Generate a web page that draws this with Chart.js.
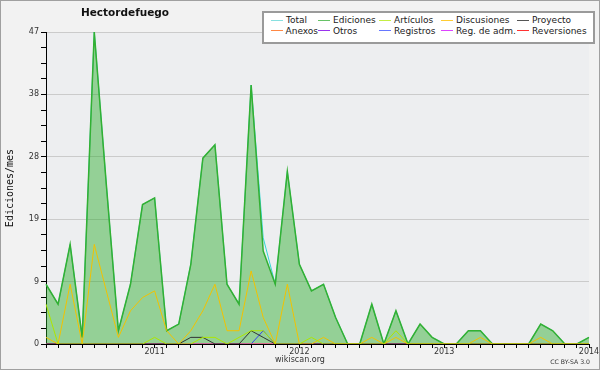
<!DOCTYPE html>
<html>
<head>
<meta charset="utf-8">
<script src="https://cdn.jsdelivr.net/npm/chart.js@4.4.1/dist/chart.umd.min.js"></script>
<style>
    html, body { margin: 0; padding: 0; background: #f2f2f2; }
    #wrap { position: relative; width: 600px; height: 370px; overflow: hidden; font-family: 'DejaVu Sans', sans-serif; }
    #frame { position: absolute; left: 0; top: 0; width: 598px; height: 368px; border: 1px solid #a0a0a0; pointer-events: none; }
    #title { position: absolute; left: 45px; top: 5px; width: 160px; text-align: center; font-weight: bold; font-size: 10.5px; line-height: 14px; color: #111; }
    #legend { position: absolute; left: 262px; top: 11px; width: 322px; height: 27px; padding: 2px 0 0 7px; background: #fff; border: 2px solid #9a9a9a;
              display: grid; grid-template-columns: 47px 61px 62px 76px auto; grid-auto-rows: 10.5px; align-content: start;
              font-size: 9px; line-height: 10.5px; color: #222; }
    .item { display: flex; align-items: center; white-space: nowrap; }
    .swatch { display: inline-block; width: 12px; height: 1px; margin-right: 3px; }
    #site { position: absolute; left: 0; top: 355px; width: 600px; text-align: center; font-size: 8px; color: #333; }
    #cc { position: absolute; right: 10px; top: 358px; font-size: 6.2px; color: #333; }
</style>
</head>
<body>
<div id="wrap">
    <canvas id="chart" width="600" height="370"></canvas>
    <div id="title">Hectordefuego</div>
    <div id="legend"></div>
    <div id="site">wikiscan.org</div>
    <div id="cc">CC BY-SA 3.0</div>
    <div id="frame"></div>
</div>
<script>
const months = [
    '2010-04', '2010-05', '2010-06', '2010-07', '2010-08', '2010-09', '2010-10', '2010-11', '2010-12',
    '2011-01', '2011-02', '2011-03', '2011-04', '2011-05', '2011-06', '2011-07', '2011-08', '2011-09', '2011-10', '2011-11', '2011-12',
    '2012-01', '2012-02', '2012-03', '2012-04', '2012-05', '2012-06', '2012-07', '2012-08', '2012-09', '2012-10', '2012-11', '2012-12',
    '2013-01', '2013-02', '2013-03', '2013-04', '2013-05', '2013-06', '2013-07', '2013-08', '2013-09', '2013-10', '2013-11', '2013-12',
    '2014-01'
];

const total       = [9, 6, 15, 1, 47, 24, 2, 9, 21, 22, 2, 3, 12, 28, 30, 9, 6, 39, 16, 9, 26, 12, 8, 9, 4, 0, 0, 6, 0, 5, 0, 3, 1, 0, 0, 2, 2, 0, 0, 0, 0, 3, 2, 0, 0, 1];
const ediciones   = [9, 6, 15, 1, 47, 24, 2, 9, 21, 22, 2, 3, 12, 28, 30, 9, 6, 39, 14, 9, 26, 12, 8, 9, 4, 0, 0, 6, 0, 5, 0, 3, 1, 0, 0, 2, 2, 0, 0, 0, 0, 3, 2, 0, 0, 1];
const articulos   = [6, 0, 0, 0, 0, 0, 0, 0, 0, 1, 0, 0, 0, 1, 1, 0, 1, 2, 2, 0, 0, 0, 1, 0, 0, 0, 0, 0, 0, 2, 0, 0, 0, 0, 0, 0, 0, 0, 0, 0, 0, 0, 0, 0, 0, 0];
const discusiones = [1, 0, 9, 0, 15, 8, 1, 5, 7, 8, 2, 0, 2, 5, 9, 2, 2, 11, 4, 0, 9, 0, 0, 1, 0, 0, 0, 1, 0, 1, 0, 0, 0, 0, 0, 0, 1, 0, 0, 0, 0, 1, 0, 0, 0, 0];
const proyecto    = [0, 0, 0, 0, 0, 0, 0, 0, 0, 0, 0, 0, 1, 1, 0, 0, 0, 2, 1, 0, 0, 0, 0, 0, 0, 0, 0, 0, 0, 0, 0, 0, 0, 0, 0, 0, 0, 0, 0, 0, 0, 0, 0, 0, 0, 0];
const registros   = [0, 0, 0, 0, 0, 0, 0, 0, 0, 0, 0, 0, 0, 0, 0, 0, 0, 0, 2, 0, 0, 0, 0, 0, 0, 0, 0, 0, 0, 0, 0, 0, 0, 0, 0, 0, 0, 0, 0, 0, 0, 0, 0, 0, 0, 0];
const anexos      = [0, 0, 0, 0, 0, 0, 0, 0, 0, 0, 0, 0, 0, 0, 0, 0, 0, 0, 0, 0, 0, 0, 0, 0, 0, 0, 0, 0, 0, 0, 0, 0, 0, 0, 0, 0, 0, 0, 0, 0, 0, 0, 0, 0, 0, 0];
const otros       = [0, 0, 0, 0, 0, 0, 0, 0, 0, 0, 0, 0, 0, 0, 0, 0, 0, 0, 0, 0, 0, 0, 0, 0, 0, 0, 0, 0, 0, 0, 0, 0, 0, 0, 0, 0, 0, 0, 0, 0, 0, 0, 0, 0, 0, 0];
const regAdm      = [0, 0, 0, 0, 0, 0, 0, 0, 0, 0, 0, 0, 0, 0, 0, 0, 0, 0, 0, 0, 0, 0, 0, 0, 0, 0, 0, 0, 0, 0, 0, 0, 0, 0, 0, 0, 0, 0, 0, 0, 0, 0, 0, 0, 0, 0];
const reversiones = [0, 0, 0, 0, 0, 0, 0, 0, 0, 0, 0, 0, 0, 0, 0, 0, 0, 0, 0, 0, 0, 0, 0, 0, 0, 0, 0, 0, 0, 0, 0, 0, 0, 0, 0, 0, 0, 0, 0, 0, 0, 0, 0, 0, 0, 0];

const seriesNames  = ['Total', 'Ediciones', 'Artículos', 'Discusiones', 'Proyecto', 'Anexos', 'Otros', 'Registros', 'Reg. de adm.', 'Reversiones'];
const seriesValues = [total, ediciones, articulos, discusiones, proyecto, anexos, otros, registros, regAdm, reversiones];
const legendColors = ['#88e0e0', '#66c266', '#c4ee44', '#ffcc33', '#555555', '#ff8844', '#9933ee', '#6677ff', '#dd44ff', '#ff3333'];
const lineColors   = ['#33d6d6', '#33b033', '#aee600', '#f2c200', '#333333', '#ff8844', '#9933ee', '#3344ee', '#dd44ff', '#ff3333'];

// legend box (html, on top of the canvas)
const legendEl = document.getElementById('legend');
seriesNames.forEach((name, i) => {
    const item = document.createElement('div');
    item.className = 'item';
    const sw = document.createElement('span');
    sw.className = 'swatch';
    sw.style.background = legendColors[i];
    item.appendChild(sw);
    item.appendChild(document.createTextNode(name));
    legendEl.appendChild(item);
});

const background = {
    id: 'background',
    beforeDraw(chart) {
        const { ctx, chartArea: a } = chart;
        ctx.save();
        ctx.fillStyle = '#f2f2f2';
        ctx.fillRect(0, 0, chart.width, chart.height);
        ctx.fillStyle = '#edeef0';
        ctx.fillRect(a.left, a.top, a.right - a.left, a.bottom - a.top);
        ctx.restore();
    }
};

const datasets = seriesNames.map((name, i) => ({
    label: name,
    data: seriesValues[i],
    borderColor: lineColors[i],
    borderWidth: name === 'Ediciones' ? 1.5 : 1,
    fill: name === 'Ediciones' ? 'origin' : false,
    backgroundColor: name === 'Ediciones' ? 'rgba(40, 170, 40, 0.45)' : 'transparent',
    order: name === 'Total' ? 20 : (name === 'Ediciones' ? 19 : i)
}));

const tickFont = { family: "'DejaVu Sans', sans-serif", size: 8 };

new Chart(document.getElementById('chart').getContext('2d'), {
    type: 'line',
    data: { labels: months, datasets: datasets },
    options: {
        responsive: false,
        animation: false,
        layout: { padding: { top: 32, right: 11, bottom: 0, left: 0 } },
        elements: { point: { radius: 0 }, line: { tension: 0 } },
        plugins: { legend: { display: false }, tooltip: { enabled: false } },
        scales: {
            x: {
                z: 1,
                offset: false,
                border: { color: '#000', width: 1 },
                grid: { drawOnChartArea: false, offset: false, tickLength: 4, tickColor: '#000' },
                ticks: {
                    autoSkip: false,
                    maxRotation: 0,
                    padding: -1,
                    color: '#333',
                    font: tickFont,
                    callback: (v, i) => months[i].endsWith('-01') ? months[i].slice(0, 4) : ''
                },
                afterFit: s => { s.height = 26; }
            },
            y: {
                min: 0,
                max: 47,
                border: { color: '#000', width: 1 },
                grid: {
                    color: c => (c.index % 4 === 0 ? '#cbcbcb' : 'transparent'),
                    tickColor: '#000',
                    tickLength: 5
                },
                ticks: {
                    stepSize: 2.35,
                    maxTicksLimit: 25,
                    autoSkip: false,
                    padding: 2,
                    color: '#333',
                    font: tickFont,
                    callback: (v, i) => (i % 4 === 0 ? Math.round(v) : '')
                },
                title: {
                    display: true,
                    text: 'Ediciones/mes',
                    color: '#111',
                    font: { family: "'DejaVu Sans Mono', monospace", size: 10 },
                    padding: { top: 4, bottom: 0 }
                },
                afterFit: s => { s.width = 46; }
            }
        }
    },
    plugins: [background]
});
</script>
</body>
</html>
